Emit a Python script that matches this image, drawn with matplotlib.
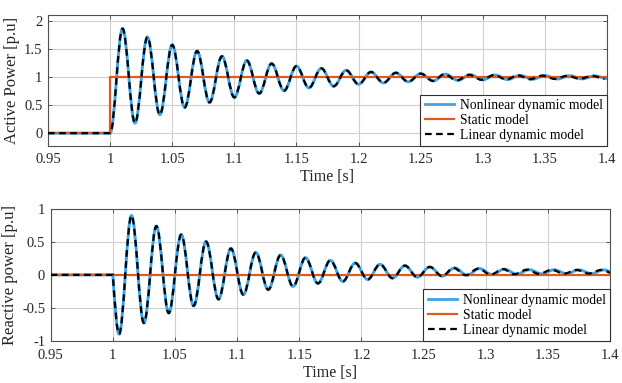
import matplotlib
matplotlib.use("Agg")
import matplotlib.pyplot as plt
from matplotlib.path import Path
from matplotlib.patches import PathPatch
from matplotlib.lines import Line2D
from matplotlib.ticker import FuncFormatter

# ---- data ----
# before the disturbance both dynamic models sit at zero
pre_t = [0.95, 1.00]
pre_y = [0.0, 0.0]

# active power: turning points (peaks / troughs) of the oscillation
p_t = [1.01, 1.02, 1.03, 1.04, 1.05, 1.06, 1.07, 1.08, 1.09, 1.10,
       1.11, 1.12, 1.13, 1.14, 1.15, 1.16, 1.17, 1.18, 1.19, 1.20,
       1.21, 1.22, 1.23, 1.24, 1.25, 1.26, 1.27, 1.28, 1.29, 1.30,
       1.31, 1.32, 1.33, 1.34, 1.35, 1.36, 1.37, 1.38, 1.39, 1.40]
p_nonlin = [1.87, 0.18, 1.72, 0.33, 1.58, 0.46, 1.47, 0.55, 1.375, 0.64,
            1.30, 0.71, 1.245, 0.76, 1.20, 0.81, 1.16, 0.84, 1.125, 0.875,
            1.095, 0.90, 1.08, 0.92, 1.065, 0.935, 1.055, 0.945, 1.045, 0.955,
            1.04, 0.96, 1.035, 0.965, 1.03, 0.97, 1.028, 0.972, 1.025, 0.975]
p_lin_t = [1.01, 1.02, 1.03, 1.04, 1.05, 1.06, 1.07, 1.08, 1.09, 1.10,
           1.11, 1.12, 1.13, 1.14, 1.15, 1.16, 1.17, 1.18, 1.19, 1.20,
           1.21, 1.22, 1.23, 1.24, 1.25, 1.26, 1.269, 1.279, 1.289, 1.299,
           1.309, 1.319, 1.328, 1.338, 1.348, 1.358, 1.368, 1.378, 1.388, 1.398]
p_lin = [1.87, 0.18, 1.72, 0.33, 1.58, 0.46, 1.47, 0.55, 1.375, 0.64,
         1.30, 0.71, 1.245, 0.76, 1.20, 0.81, 1.16, 0.84, 1.125, 0.875,
         1.095, 0.90, 1.08, 0.92, 1.065, 0.935, 1.055, 0.945, 1.045, 0.955,
         1.04, 0.96, 1.035, 0.965, 1.03, 0.97, 1.028, 0.972, 1.025, 0.975]

# static model
p_static_t = [0.95, 1.00, 1.00, 1.40]
p_static = [0.0, 0.0, 1.0, 1.0]
q_static_t = [0.95, 1.40]
q_static = [0.0, 0.0]

# reactive power: turning points
q_t = [1.005, 1.015, 1.025, 1.035, 1.045, 1.055, 1.065, 1.075, 1.085, 1.095,
       1.105, 1.115, 1.125, 1.135, 1.145, 1.155, 1.165, 1.175, 1.185, 1.195,
       1.205, 1.215, 1.225, 1.235, 1.245, 1.255, 1.265, 1.275, 1.285, 1.295,
       1.305, 1.315, 1.325, 1.335, 1.345, 1.355, 1.365, 1.375, 1.385, 1.395, 1.405]
q_nonlin = [-0.90, 0.90, -0.73, 0.74, -0.58, 0.61, -0.47, 0.505, -0.37, 0.40,
            -0.30, 0.34, -0.225, 0.30, -0.175, 0.26, -0.13, 0.22, -0.10, 0.18,
            -0.07, 0.16, -0.05, 0.14, -0.035, 0.12, -0.02, 0.105, -0.005, 0.095,
            0.005, 0.087, 0.01, 0.078, 0.015, 0.077, 0.018, 0.075, 0.02, 0.075, 0.02]
q_lin_t = [1.005, 1.015, 1.025, 1.035, 1.045, 1.055, 1.065, 1.075, 1.085, 1.095,
           1.105, 1.115, 1.125, 1.135, 1.145, 1.155, 1.165, 1.175, 1.185, 1.195,
           1.205, 1.215, 1.225, 1.235, 1.245, 1.255, 1.265, 1.274, 1.284, 1.294,
           1.304, 1.314, 1.323, 1.333, 1.343, 1.353, 1.363, 1.373, 1.383, 1.393, 1.403]
q_lin = [-0.90, 0.90, -0.73, 0.74, -0.58, 0.61, -0.47, 0.505, -0.37, 0.40,
         -0.30, 0.34, -0.225, 0.30, -0.175, 0.26, -0.13, 0.22, -0.10, 0.18,
         -0.07, 0.16, -0.05, 0.14, -0.035, 0.12, -0.02, 0.105, -0.005, 0.095,
         0.005, 0.087, 0.01, 0.078, 0.015, 0.077, 0.018, 0.075, 0.02, 0.075, 0.02]

labels = ["Nonlinear dynamic model", "Static model", "Linear dynamic model"]

BLUE = "#3BA3E8"
ORANGE = "#DF5A20"
DASH = (0, (3, 2))

plt.rcParams["font.family"] = ["Liberation Serif", "DejaVu Serif"]
plt.rcParams["axes.unicode_minus"] = False


def wave_path(t, y, lead_in=False):
    """smooth curve through turning points, drawn as cubic bezier segments"""
    verts = [(pre_t[0], pre_y[0])]
    codes = [Path.MOVETO]
    for tp, yp in zip(pre_t[1:], pre_y[1:]):
        verts.append((tp, yp))
        codes.append(Path.LINETO)
    t0, y0 = pre_t[-1], pre_y[-1]
    for i, (t1, y1) in enumerate(zip(t, y)):
        dt, dy = t1 - t0, y1 - y0
        if i == 0 and lead_in:
            c1 = (t0 + dt / 3, y0 + 0.52 * dy)
            c2 = (t1 - dt / 3, y1)
        else:
            c1 = (t0 + 0.364 * dt, y0)
            c2 = (t1 - 0.364 * dt, y1)
        verts += [c1, c2, (t1, y1)]
        codes += [Path.CURVE4] * 3
        t0, y0 = t1, y1
    return Path(verts, codes)


def style_axes(ax, ylim, yticks, ylabel, xpad):
    ax.set_xlim(0.95, 1.4)
    ax.set_ylim(*ylim)
    ax.set_xticks([0.95, 1, 1.05, 1.1, 1.15, 1.2, 1.25, 1.3, 1.35, 1.4])
    ax.set_yticks(yticks)
    fmt = FuncFormatter(lambda v, pos: f"{v:g}")
    ax.xaxis.set_major_formatter(fmt)
    ax.yaxis.set_major_formatter(fmt)
    ax.grid(True, color="#cfcfcf", lw=0.8)
    ax.set_axisbelow(True)
    ax.tick_params(direction="in", top=True, right=True, length=3,
                   width=0.6, color="#404040", labelsize=10.5,
                   labelcolor="#262626")
    ax.tick_params(axis="x", pad=xpad)
    ax.tick_params(axis="y", pad=4)
    for s in ax.spines.values():
        s.set_color("#505050")
        s.set_linewidth(0.8)
    ax.set_xlabel("Time [s]", fontsize=11.5, color="#262626", labelpad=2)
    ax.set_ylabel(ylabel, fontsize=12, color="#262626", labelpad=3)
    handles = [Line2D([], [], color=BLUE, lw=2.0),
               Line2D([], [], color=ORANGE, lw=1.6),
               Line2D([], [], color="black", lw=1.6, linestyle=DASH)]
    leg = ax.legend(handles, labels, loc="lower right", borderaxespad=0,
                    fancybox=False, framealpha=1, edgecolor="#303030",
                    fontsize=9.8, handlelength=2.2, handletextpad=0.4,
                    labelspacing=0.15, borderpad=0.3)
    leg.get_frame().set_linewidth(0.8)


fig = plt.figure(figsize=(6.22, 3.83), dpi=100)
ax1 = fig.add_axes([0.0772, 0.6188, 0.8987, 0.3428])
ax2 = fig.add_axes([0.0815, 0.1104, 0.8992, 0.3439])

# active power
ax1.add_patch(PathPatch(wave_path(p_t, p_nonlin), fc="none", ec=BLUE, lw=2.1, zorder=2))
ax1.plot(p_static_t, p_static, color=ORANGE, lw=1.6, zorder=3)
ax1.add_patch(PathPatch(wave_path(p_lin_t, p_lin), fc="none", ec="black", lw=1.6,
                        linestyle=DASH, zorder=4))
style_axes(ax1, (-0.23, 2.12), [0, 0.5, 1, 1.5, 2], "Active Power [p.u]", 5)

# reactive power
ax2.add_patch(PathPatch(wave_path(q_t, q_nonlin, lead_in=True), fc="none", ec=BLUE,
                        lw=2.1, zorder=2))
ax2.plot(q_static_t, q_static, color=ORANGE, lw=1.6, zorder=3)
ax2.add_patch(PathPatch(wave_path(q_lin_t, q_lin, lead_in=True), fc="none", ec="black",
                        lw=1.6, linestyle=DASH, zorder=4))
style_axes(ax2, (-1, 1), [-1, -0.5, 0, 0.5, 1], "Reactive power [p.u]", 6)

fig.savefig("out.png", dpi=100)
